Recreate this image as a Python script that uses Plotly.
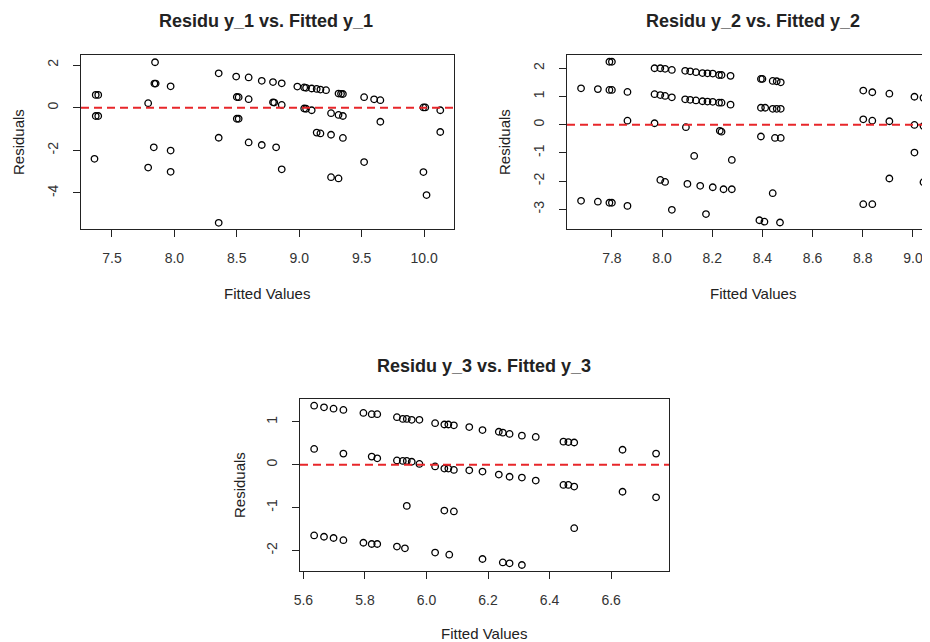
import plotly.graph_objects as go

# ---------------- data ----------------
fitted_y1 = [7.37, 7.37, 7.39, 7.39, 7.36,
             7.845, 7.84, 7.85, 7.835, 7.79, 7.79, 7.97, 7.97, 7.97,
             8.355, 8.355, 8.355,
             8.495, 8.50, 8.50, 8.515, 8.515,
             8.595, 8.595, 8.595,
             8.70, 8.70,
             8.79, 8.79, 8.80, 8.815,
             8.86, 8.86, 8.86,
             8.985,
             9.04, 9.04, 9.055, 9.055,
             9.10, 9.10,
             9.14, 9.14,
             9.17, 9.17,
             9.215,
             9.255, 9.255, 9.255,
             9.315, 9.315, 9.315,
             9.335, 9.35, 9.35, 9.35,
             9.52, 9.52,
             9.60,
             9.65, 9.65,
             9.995, 9.995, 10.01,
             10.02,
             10.13, 10.13]
resid_y1 = [0.60, -0.39, 0.60, -0.39, -2.40,
            2.13, 1.13, 1.13, -1.86, 0.21, -2.81, 1.00, -2.01, -3.01,
            1.61, -1.41, -5.40,
            1.46, 0.50, -0.52, 0.49, -0.52,
            1.42, 0.40, -1.63,
            1.26, -1.75,
            1.20, 0.25, 0.24, -1.86,
            1.14, 0.13, -2.89,
            0.99,
            0.95, -0.04, 0.93, -0.05,
            0.90, -0.12,
            0.88, -1.17,
            0.85, -1.21,
            0.82,
            -0.26, -1.27, -3.26,
            0.66, -0.34, -3.32,
            0.65, 0.64, -0.39, -1.42,
            0.49, -2.55,
            0.39,
            0.35, -0.66,
            0.01, -3.02, 0.01,
            -4.10,
            -0.12, -1.14]

fitted_y2 = [7.677, 7.677,
             7.744, 7.744,
             7.79, 7.79, 7.79, 7.80, 7.80, 7.80,
             7.862, 7.862, 7.862,
             7.97, 7.97, 7.97,
             7.993, 7.993, 7.993,
             8.012, 8.012, 8.012,
             8.039, 8.039, 8.039,
             8.092, 8.092, 8.095, 8.101,
             8.112, 8.112,
             8.128,
             8.135, 8.135,
             8.152,
             8.161, 8.161,
             8.175,
             8.181, 8.181,
             8.202, 8.202, 8.202,
             8.227, 8.227,
             8.23, 8.237, 8.237, 8.237,
             8.245,
             8.273, 8.273,
             8.278, 8.278,
             8.388, 8.394, 8.394, 8.394, 8.40,
             8.408, 8.411,
             8.441, 8.441, 8.441,
             8.45,
             8.457, 8.457,
             8.47, 8.473, 8.473, 8.473,
             8.802, 8.802, 8.802,
             8.838, 8.838, 8.838,
             8.906, 8.906, 8.906,
             9.006, 9.006, 9.006,
             9.042, 9.042, 9.042,
             9.056, 9.056, 9.052]
resid_y2 = [1.29, -2.70,
            1.26, -2.73,
            1.23, -2.77, 2.23, 1.23, -2.77, 2.23,
            1.16, 0.14, -2.88,
            2.00, 1.08, 0.05,
            2.00, 1.05, -1.96,
            1.98, 1.02, -2.03,
            1.94, 0.97, -3.02,
            1.91, 0.90, -0.09, -2.10,
            1.89, 0.88,
            -1.11,
            1.86, 0.86,
            -2.17,
            1.83, 0.83,
            -3.17,
            1.82, 0.82,
            1.81, 0.81, -2.22,
            1.76, 0.78,
            -0.22, 1.76, 0.78, -0.25,
            -2.29,
            1.73, 0.71,
            -1.25, -2.29,
            -3.39, 1.62, 0.60, -0.42, 1.62,
            -3.44, 0.60,
            1.55, 0.56, -2.43,
            -0.47,
            1.54, 0.56,
            -3.47, 1.50, 0.56, -0.47,
            1.21, 0.19, -2.82,
            1.15, 0.14, -2.82,
            1.10, 0.12, -1.91,
            0.99, -0.01, -0.99,
            0.95, -0.05, -2.04,
            0.95, -0.05, -1.07]

fitted_y3 = [5.635, 5.635, 5.635,
             5.667, 5.667,
             5.698, 5.698,
             5.730, 5.730, 5.730,
             5.795, 5.795,
             5.822, 5.822, 5.822,
             5.840, 5.840, 5.840,
             5.904, 5.904, 5.904,
             5.923, 5.923, 5.930,
             5.936, 5.936, 5.936,
             5.952, 5.952,
             5.977, 5.977,
             6.028, 6.028, 6.028,
             6.058, 6.058, 6.058,
             6.071, 6.071, 6.074,
             6.089, 6.089, 6.089,
             6.139, 6.139,
             6.182, 6.182, 6.182,
             6.235, 6.235,
             6.248, 6.248,
             6.270, 6.270, 6.270,
             6.310, 6.310, 6.310,
             6.355, 6.355,
             6.445, 6.445,
             6.461, 6.461,
             6.480, 6.480, 6.480,
             6.637, 6.637,
             6.746, 6.746]
resid_y3 = [1.38, 0.37, -1.65,
            1.34, -1.68,
            1.31, -1.71,
            1.28, 0.26, -1.76,
            1.21, -1.82,
            1.18, 0.19, -1.85,
            1.18, 0.15, -1.85,
            1.11, 0.10, -1.91,
            1.07, 0.09, -1.95,
            1.07, 0.09, -0.96,
            1.05, 0.07,
            1.05, 0.02,
            0.97, -0.04, -2.05,
            0.94, -0.09, -1.07,
            0.94, -0.09, -2.10,
            0.92, -0.12, -1.09,
            0.88, -0.13,
            0.81, -0.16, -2.20,
            0.77, -0.23,
            0.75, -2.28,
            0.72, -0.28, -2.30,
            0.68, -0.30, -2.34,
            0.65, -0.37,
            0.54, -0.47,
            0.53, -0.47,
            0.52, -0.51, -1.48,
            0.35, -0.63,
            0.26, -0.76]

titles = ["Residu y_1 vs. Fitted y_1", "Residu y_2 vs. Fitted y_2", "Residu y_3 vs. Fitted y_3"]
x_label = "Fitted Values"
y_label = "Residuals"

x1_ticks = [7.5, 8.0, 8.5, 9.0, 9.5, 10.0]
y1_ticks = [-4, -2, 0, 2]
x2_ticks = [7.8, 8.0, 8.2, 8.4, 8.6, 8.8, 9.0]
y2_ticks = [-3, -2, -1, 0, 1, 2]
x3_ticks = [5.6, 5.8, 6.0, 6.2, 6.4, 6.6]
y3_ticks = [-2, -1, 0, 1]

# ---------------- figure ----------------
# page body has an 8px margin: the figure starts at (8, 8) in the window
OX, OY = 8, 8
W, H = 922, 634
FONT = "Liberation Sans, Arial, sans-serif"
TXT = "#222222"


def px_x(p):
    return (p - OX) / W


def px_y(p):
    return 1 - (p - OY) / H


fig = go.Figure()

panels = [
    (fitted_y1, resid_y1, "", (81, 454), (55, 229), (7.252, 10.24), (-5.69, 2.47), x1_ticks, y1_ticks, True),
    (fitted_y2, resid_y2, "2", (567, 930), (55, 229), (7.621, 9.068), (-3.70, 2.47), x2_ticks, y2_ticks, False),
    (fitted_y3, resid_y3, "3", (300, 669), (399, 571), (5.589, 6.788), (-2.48, 1.535), x3_ticks, y3_ticks, True),
]

for i, (xs, ys, s, xd, yd, xr, yr, xt, yt, rb) in enumerate(panels):
    fig.add_trace(go.Scatter(
        x=xs, y=ys, mode="markers",
        marker=dict(symbol="circle-open", size=6.5, color="black", line=dict(width=1.3, color="black")),
        xaxis="x" + s, yaxis="y" + s, showlegend=False, hoverinfo="skip"))
    fig.add_shape(type="line", xref="x" + s + " domain", yref="y" + s,
                  x0=0, x1=1, y0=0, y1=0,
                  line=dict(color="#E8262A", width=2, dash="8px,5px"))
    xdom = [max(0, px_x(xd[0])), min(1, px_x(xd[1]))]
    ydom = [px_y(yd[1]), px_y(yd[0])]
    fig.update_layout(**{
        "xaxis" + s: dict(domain=xdom, range=list(xr), anchor="y" + s, automargin=False,
                          tickvals=xt, ticktext=[f"{v:.1f}" for v in xt],
                          showline=True, mirror=True, linecolor="#222", linewidth=1.3,
                          ticks="outside", ticklen=7, tickwidth=1.3, tickcolor="#222",
                          showgrid=False, zeroline=False, ticklabelstandoff=9,
                          tickfont=dict(family=FONT, size=14, color="#333")),
        "yaxis" + s: dict(domain=ydom, range=list(yr), anchor="x" + s, automargin=False,
                          tickvals=yt, ticktext=[str(v) for v in yt], tickangle=-90,
                          showline=True, mirror=rb, linecolor="#222", linewidth=1.3,
                          ticks="outside", ticklen=7, tickwidth=1.3, tickcolor="#222",
                          showgrid=False, zeroline=False, ticklabelstandoff=9,
                          tickfont=dict(family=FONT, size=14, color="#333")),
    })

# titles and axis labels (window pixel positions)
title_pos = [(266, 21), (753, 21), (484, 366)]
xlab_pos = [(267, 293), (753, 293), (484, 633)]
ylab_pos = [(18, 142), (504, 142), (239, 485)]
for i in range(3):
    tx, ty = title_pos[i]
    fig.add_annotation(x=px_x(tx), y=px_y(ty), xref="paper", yref="paper",
                       text="<b>" + titles[i] + "</b>", showarrow=False,
                       font=dict(family=FONT, size=18, color=TXT), xanchor="center", yanchor="middle")
    lx, ly = xlab_pos[i]
    fig.add_annotation(x=px_x(lx), y=px_y(ly), xref="paper", yref="paper",
                       text=x_label, showarrow=False,
                       font=dict(family=FONT, size=15, color=TXT), xanchor="center", yanchor="middle")
    yx, yy = ylab_pos[i]
    fig.add_annotation(x=px_x(yx), y=px_y(yy), xref="paper", yref="paper",
                       text=y_label, showarrow=False, textangle=-90,
                       font=dict(family=FONT, size=15, color=TXT), xanchor="center", yanchor="middle")

fig.update_layout(width=W, height=H, margin=dict(l=0, r=0, t=0, b=0),
                  paper_bgcolor="white", plot_bgcolor="white", showlegend=False)

fig.write_html("out.html")
